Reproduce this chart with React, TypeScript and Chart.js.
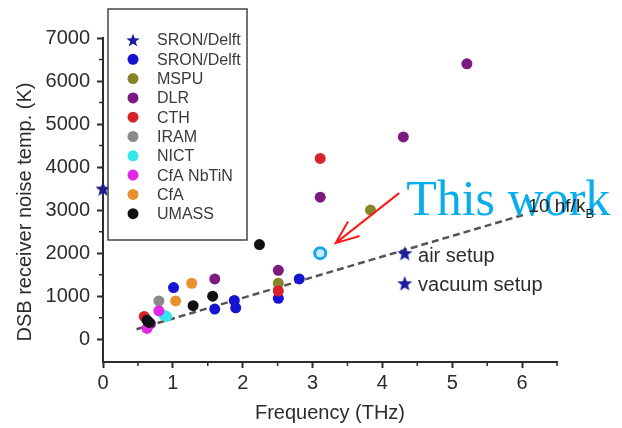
import React, { useEffect, useRef } from 'react';
import { Chart, registerables } from 'chart.js';

Chart.register(...registerables);

// ---- data (THz, K) ----
const sronStarX = [0, 4.32, 4.32];
const sronStarY = [3500, 2000, 1300];
const sronX = [1.01, 1.6, 1.88, 1.9, 2.51, 2.81];
const sronY = [1200, 700, 900, 730, 950, 1400];
const mspuX = [2.51, 3.83];
const mspuY = [1300, 3000];
const dlrX = [0.68, 1.6, 2.51, 3.11, 4.3, 5.21];
const dlrY = [360, 1400, 1600, 3300, 4700, 6400];
const cthX = [0.59, 2.51, 3.11];
const cthY = [530, 1120, 4200];
const iramX = [0.8];
const iramY = [890];
const nictX = [0.87, 0.91];
const nictY = [560, 530];
const cfaNbX = [0.63, 0.8];
const cfaNbY = [250, 660];
const cfaX = [1.04, 1.27];
const cfaY = [890, 1300];
const umassX = [0.63, 0.66, 1.29, 1.57, 2.24];
const umassY = [440, 390, 780, 1000, 2200];
const thisWorkX = [3.11];
const thisWorkY = [2000];
const fitX = [0.48, 6.02];
const fitY = [230, 2890];

const xTicks = [0, 1, 2, 3, 4, 5, 6];
const yTicks = [0, 1000, 2000, 3000, 4000, 5000, 6000, 7000];
const xMinor = [0.5, 1.5, 2.5, 3.5, 4.5, 5.5, 6.5];
const yMinor = [500, 1500, 2500, 3500, 4500, 5500, 6500];

const legendLabels = ['SRON/Delft', 'SRON/Delft', 'MSPU', 'DLR', 'CTH', 'IRAM', 'NICT', 'CfA NbTiN', 'CfA', 'UMASS'];
const groupColors = ['#1c1c9c', '#1414d2', '#85852a', '#7d1a80', '#d8222a', '#8a8a8a', '#35e6ec', '#e426e6', '#e8912e', '#111111'];
const groupX = [sronStarX, sronX, mspuX, dlrX, cthX, iramX, nictX, cfaNbX, cfaX, umassX];
const groupY = [sronStarY, sronY, mspuY, dlrY, cthY, iramY, nictY, cfaNbY, cfaY, umassY];

const SANS = "'Liberation Sans', Arial, sans-serif";
const INK = '#2c2c2c';

function makeStar(size: number, color: string) {
  const c = document.createElement('canvas');
  c.width = size;
  c.height = size;
  const g = c.getContext('2d')!;
  const cx = size / 2, cy = size / 2 + size * 0.05, R = size / 2, r = R * 0.42;
  g.beginPath();
  for (let i = 0; i < 10; i++) {
    const a = -Math.PI / 2 + (i * Math.PI) / 5;
    const rad = i % 2 === 0 ? R : r;
    g.lineTo(cx + rad * Math.cos(a), cy + rad * Math.sin(a));
  }
  g.closePath();
  g.fillStyle = color;
  g.fill();
  return c;
}

export default function App() {
  const ref = useRef<HTMLCanvasElement | null>(null);

  useEffect(() => {
    document.body.style.margin = '0';
    const canvas = ref.current!;
    const star = makeStar(16, groupColors[0]);
    const legendStar = makeStar(14, groupColors[0]);

    const pts = (xs: number[], ys: number[]) => xs.map((x, i) => ({ x, y: ys[i] }));

    const groupSets = legendLabels.map((label, i) => ({
      label,
      data: pts(groupX[i], groupY[i]),
      pointStyle: i === 0 ? (star as any) : 'circle',
      pointRadius: 5.5,
      pointBackgroundColor: groupColors[i],
      pointBorderColor: groupColors[i],
      pointBorderWidth: 0,
      showLine: false,
      clip: false as any,
      order: 20 - i,
    }));

    const overlay = {
      id: 'overlay',
      afterDatasetsDraw(chart: any) {
        const { ctx, chartArea: ca, scales } = chart;
        const xs = scales.x, ys = scales.y;
        const px = (v: number) => xs.getPixelForValue(v);
        const py = (v: number) => ys.getPixelForValue(v);
        ctx.save();

        // minor ticks
        ctx.strokeStyle = INK;
        ctx.lineWidth = 1.5;
        ctx.beginPath();
        yMinor.forEach((v) => {
          ctx.moveTo(ca.left - 4, py(v));
          ctx.lineTo(ca.left, py(v));
        });
        xMinor.forEach((v) => {
          ctx.moveTo(px(v), ca.bottom);
          ctx.lineTo(px(v), ca.bottom + 4);
        });
        ctx.stroke();

        // axis titles
        ctx.fillStyle = INK;
        ctx.font = `20px ${SANS}`;
        ctx.textAlign = 'center';
        ctx.textBaseline = 'middle';
        ctx.fillText('Frequency (THz)', (ca.left + ca.right) / 2, ca.bottom + 51);
        ctx.save();
        ctx.translate(25, ca.top + 174);
        ctx.rotate(-Math.PI / 2);
        ctx.fillText('DSB receiver noise temp. (K)', 0, 0);
        ctx.restore();

        // legend box
        const lx = ca.left + 5, ly = ca.top - 29, lw = 139, lh = 231;
        ctx.fillStyle = '#ffffff';
        ctx.fillRect(lx, ly, lw, lh);
        ctx.strokeStyle = '#444444';
        ctx.lineWidth = 1.5;
        ctx.strokeRect(lx, ly, lw, lh);
        ctx.font = `16px ${SANS}`;
        ctx.textAlign = 'left';
        ctx.textBaseline = 'middle';
        legendLabels.forEach((label, i) => {
          const cy = ly + 31 + i * 19.3;
          const mx = lx + 25;
          if (i === 0) {
            ctx.drawImage(legendStar, mx - 7, cy - 7);
          } else {
            ctx.beginPath();
            ctx.fillStyle = groupColors[i];
            ctx.arc(mx, cy, 5.5, 0, Math.PI * 2);
            ctx.fill();
          }
          ctx.fillStyle = '#3a3a3a';
          ctx.fillText(label, lx + 49, cy + 1);
        });

        // setup labels
        ctx.fillStyle = INK;
        ctx.font = `20px ${SANS}`;
        ctx.fillText('air setup', px(4.51), py(1930));
        ctx.fillText('vacuum setup', px(4.51), py(1250));

        // red arrow
        const x0 = px(4.24), y0 = py(3395), x1 = px(3.33), y1 = py(2233);
        ctx.strokeStyle = '#ff1a1a';
        ctx.lineWidth = 2;
        ctx.beginPath();
        ctx.moveTo(x0, y0);
        ctx.lineTo(x1, y1);
        const ang = Math.atan2(y0 - y1, x0 - x1);
        const hl = 25, ha = 0.38;
        ctx.moveTo(x1 + hl * Math.cos(ang - ha), y1 + hl * Math.sin(ang - ha));
        ctx.lineTo(x1, y1);
        ctx.lineTo(x1 + hl * Math.cos(ang + ha), y1 + hl * Math.sin(ang + ha));
        ctx.stroke();

        // This work
        ctx.fillStyle = '#0aadeb';
        ctx.font = `50px 'Liberation Serif', 'Times New Roman', serif`;
        ctx.textBaseline = 'alphabetic';
        ctx.fillText('This work', px(4.34), py(2880));

        // 10 hf/kB
        ctx.fillStyle = '#222222';
        ctx.font = `19px ${SANS}`;
        const tx = px(6.09), tyv = py(2950);
        ctx.fillText('10 hf/k', tx, tyv);
        const w = ctx.measureText('10 hf/k').width;
        ctx.font = `13px ${SANS}`;
        ctx.fillText('B', tx + w, tyv + 6);

        ctx.restore();
      },
    };

    const chart = new Chart(canvas, {
      type: 'scatter',
      data: {
        datasets: [
          {
            label: 'This work',
            data: pts(thisWorkX, thisWorkY),
            pointRadius: 5.5,
            pointBorderWidth: 3,
            pointBorderColor: '#14a9e6',
            pointBackgroundColor: '#cbe9f8',
            order: 0,
          } as any,
          {
            label: '10 hf/kB',
            data: pts(fitX, fitY),
            showLine: true,
            pointRadius: 0,
            borderColor: '#555555',
            borderWidth: 2.5,
            borderDash: [7, 4],
            order: 30,
          },
          ...groupSets,
        ],
      },
      options: {
        animation: false,
        responsive: false,
        events: [],
        layout: { padding: { top: 38, right: 65, left: 0, bottom: 0 } },
        plugins: {
          legend: { display: false },
          tooltip: { enabled: false },
        },
        scales: {
          x: {
            type: 'linear',
            min: 0,
            max: 6.5,
            afterBuildTicks: (s: any) => {
              s.ticks = xTicks.map((v) => ({ value: v }));
            },
            afterFit: (s: any) => {
              s.height = 66;
            },
            ticks: {
              font: { family: SANS, size: 20 },
              color: INK,
              padding: 3,
              autoSkip: false,
              maxRotation: 0,
              callback: (v: any) => String(v),
            },
            grid: { drawOnChartArea: false, tickLength: 6, tickColor: INK, tickWidth: 2 },
            border: { color: INK, width: 2 },
          },
          y: {
            type: 'linear',
            min: -530,
            max: 7000,
            afterBuildTicks: (s: any) => {
              s.ticks = yTicks.map((v) => ({ value: v }));
            },
            afterFit: (s: any) => {
              s.width = 103;
            },
            ticks: {
              font: { family: SANS, size: 20 },
              color: INK,
              padding: 7,
              autoSkip: false,
              callback: (v: any) => String(v),
            },
            grid: { drawOnChartArea: false, tickLength: 6, tickColor: INK, tickWidth: 2 },
            border: { color: INK, width: 2 },
          },
        },
      },
      plugins: [overlay],
    });

    return () => chart.destroy();
  }, []);

  return (
    <div style={{ width: 622, height: 428, background: '#fff' }}>
      <canvas ref={ref} width={622} height={428} style={{ display: 'block' }} />
    </div>
  );
}
